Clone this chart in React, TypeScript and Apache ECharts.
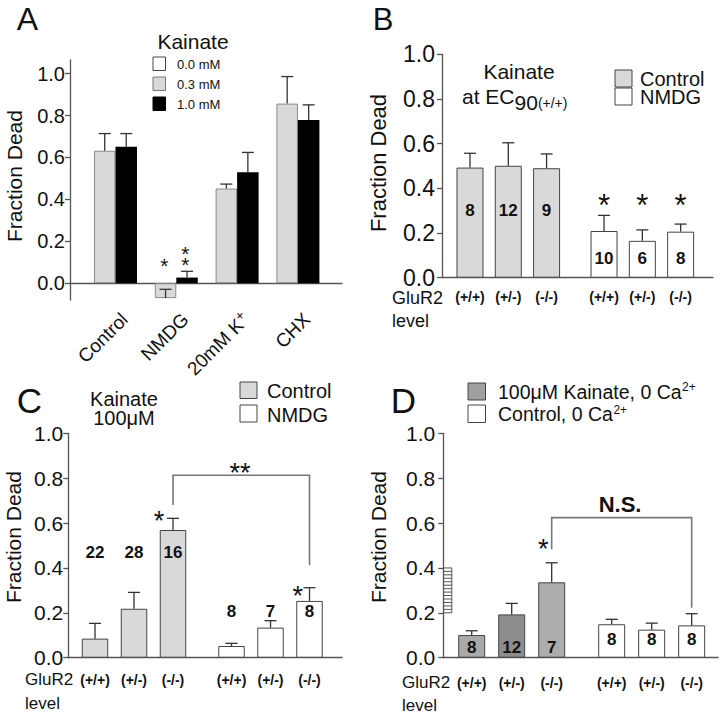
import React, { useEffect, useRef } from "react";
import * as echarts from "echarts";

const FONT = "'Liberation Sans', Arial, Helvetica, sans-serif";
const NARROW = "'Liberation Sans Narrow', 'Liberation Sans', Arial, sans-serif";

// ---------- Panel A ----------
const A_GROUPS = ["Control", "NMDG", "20mM K⁺", "CHX"];
const A_LEGEND = ["0.0 mM", "0.3 mM", "1.0 mM"];
const A_KA03 = [0.632, -0.071, 0.452, 0.857];
const A_KA03_SEM = [0.082, 0.042, 0.021, 0.129];
const A_KA10 = [0.651, 0.027, 0.529, 0.779];
const A_KA10_SEM = [0.063, 0.030, 0.095, 0.072];
const Y_TICKS = [0, 0.2, 0.4, 0.6, 0.8, 1.0];

// ---------- Panels B-D ----------
const GENOTYPES = ["(+/+)", "(+/-)", "(-/-)"];
const SLOT_1 = [1, 2, 3];
const SLOT_2 = [4.5, 5.5, 6.5];

const B_CONTROL = [0.493, 0.501, 0.49];
const B_CONTROL_SEM = [0.064, 0.103, 0.064];
const B_NMDG = [0.209, 0.165, 0.206];
const B_NMDG_SEM = [0.07, 0.049, 0.034];
const B_CONTROL_N = [8, 12, 9];
const B_NMDG_N = [10, 6, 8];

const C_CONTROL = [0.085, 0.218, 0.569];
const C_CONTROL_SEM = [0.068, 0.073, 0.052];
const C_NMDG = [0.052, 0.134, 0.253];
const C_NMDG_SEM = [0.012, 0.031, 0.059];
const C_CONTROL_N = [22, 28, 16];
const C_NMDG_N = [8, 7, 8];

const D_KAINATE = [0.101, 0.193, 0.336];
const D_KAINATE_SEM = [0.019, 0.049, 0.087];
const D_CONTROL = [0.149, 0.125, 0.144];
const D_CONTROL_SEM = [0.022, 0.029, 0.052];
const D_KAINATE_N = [8, 12, 7];
const D_CONTROL_N = [8, 8, 8];

// ---------- styles ----------
const AXIS_COLOR = "#555";
const TEXT = "#111";
const LIGHT = "#d9d9d9";
const D_FILLS = ["#a9a9a9", "#8d8d8d", "#acacac"];

function measure(text: string, size: number, weight = "normal") {
  const c = document.createElement("canvas").getContext("2d");
  if (!c) return text.length * size * 0.55;
  c.font = `${weight} ${size}px ${FONT}`;
  return c.measureText(text).width;
}

function txt(x: number, y: number, text: string, size: number, o: any = {}) {
  const align = o.align || "left";
  return {
    type: "text",
    x,
    y,
    rotation: o.rotation || 0,
    silent: true,
    style: {
      text,
      fill: TEXT,
      fontSize: size,
      lineHeight: o.lineHeight || size,
      fontFamily: o.family || FONT,
      fontWeight: o.weight || "normal",
      align,
      textAlign: align,
      verticalAlign: "middle",
      textVerticalAlign: "middle",
    },
  };
}

function box(x: number, y: number, w: number, h: number, fill: string, stroke = "#444") {
  return {
    type: "rect",
    silent: true,
    shape: { x, y, width: w, height: h },
    style: { fill, stroke, lineWidth: 1 },
  };
}

function errSeries(gi: number, xs: number[], means: number[], sems: number[], dx = 0) {
  return {
    type: "custom",
    xAxisIndex: gi,
    yAxisIndex: gi,
    z: 4,
    silent: true,
    clip: false,
    data: xs.map((x, i) => [x, means[i], means[i] + sems[i]]),
    renderItem: (params: any, api: any) => {
      const lo = api.coord([api.value(0), api.value(1)]);
      const hi = api.coord([api.value(0), api.value(2)]);
      const x = lo[0] + dx;
      const st = { stroke: "#333", lineWidth: 1.3 };
      return {
        type: "group",
        children: [
          { type: "line", shape: { x1: x, y1: lo[1], x2: x, y2: hi[1] }, style: st },
          { type: "line", shape: { x1: x - 6, y1: hi[1], x2: x + 6, y2: hi[1] }, style: st },
        ],
      };
    },
  };
}

function labelSeries(
  gi: number,
  items: [number, number, string][],
  size: number,
  weight = "bold",
  dx = 0,
  dy = 0,
  extra: any = {}
) {
  return {
    type: "custom",
    xAxisIndex: gi,
    yAxisIndex: gi,
    z: 6,
    silent: true,
    clip: false,
    data: items.map((it) => [it[0], it[1]]),
    renderItem: (params: any, api: any) => {
      const p = api.coord([api.value(0), api.value(1)]);
      const raw = items[params.dataIndex][2];
      const t = extra.format ? extra.format(raw) : raw;
      const align = extra.align || "center";
      const style: any = {
        text: t,
        fill: TEXT,
        fontSize: size,
        lineHeight: extra.lineHeight || size,
        fontWeight: weight,
        fontFamily: FONT,
        align,
        verticalAlign: "middle",
        textAlign: align,
        textVerticalAlign: "middle",
      };
      if (extra.rich) style.rich = extra.rich;
      return {
        type: "text",
        x: p[0] + dx,
        y: p[1] + dy,
        rotation: extra.rotation || 0,
        style,
      };
    },
  };
}

function starSeries(gi: number, items: [number, number, string][], size: number, dx = 0, lineHeight?: number) {
  return labelSeries(gi, items, size, "normal", dx, 0.22 * size, { lineHeight: lineHeight || size });
}

function bracketSeries(gi: number, b: number[]) {
  return {
    type: "custom",
    xAxisIndex: gi,
    yAxisIndex: gi,
    z: 5,
    silent: true,
    clip: false,
    data: [b],
    renderItem: (params: any, api: any) => {
      const x1 = api.value(0), x2 = api.value(1), yt = api.value(2), yl = api.value(3), yr = api.value(4);
      const pts = [api.coord([x1, yl]), api.coord([x1, yt]), api.coord([x2, yt]), api.coord([x2, yr])];
      return { type: "polyline", shape: { points: pts }, style: { stroke: "#777", lineWidth: 1.6, fill: "none" } };
    },
  };
}

function hatchSeries(gi: number, xAt: number, range: number[]) {
  return {
    type: "custom",
    xAxisIndex: gi,
    yAxisIndex: gi,
    z: 5,
    silent: true,
    clip: false,
    data: [range],
    renderItem: (params: any, api: any) => {
      const p0 = api.coord([xAt, api.value(0)]);
      const p1 = api.coord([xAt, api.value(1)]);
      const st = { stroke: "#555", lineWidth: 1 };
      const children: any[] = [
        { type: "line", shape: { x1: p0[0] + 8.5, y1: p0[1], x2: p1[0] + 8.5, y2: p1[1] }, style: st },
      ];
      const n = 13;
      for (let k = 0; k <= n; k++) {
        const y = p1[1] + ((p0[1] - p1[1]) * k) / n;
        children.push({ type: "line", shape: { x1: p0[0], y1: y, x2: p0[0] + 8.5, y2: y }, style: st });
      }
      return { type: "group", children };
    },
  };
}

function pairedBars(gi: number, v1: number[], fills1: string[], v2: number[], fill2: string, width: number) {
  const data = [
    ...SLOT_1.map((x, i) => ({ value: [x, v1[i]], itemStyle: { color: fills1[i], borderColor: "#444", borderWidth: 1 } })),
    ...SLOT_2.map((x, i) => ({ value: [x, v2[i]], itemStyle: { color: fill2, borderColor: "#444", borderWidth: 1 } })),
  ];
  return { type: "bar", xAxisIndex: gi, yAxisIndex: gi, data, barWidth: width, z: 2, silent: true };
}

function xAxisGeno(gi: number, min: number, max: number, margin: number) {
  const values = [...SLOT_1, ...SLOT_2];
  const labels = [...GENOTYPES, ...GENOTYPES];
  return {
    type: "value",
    gridIndex: gi,
    min,
    max,
    splitLine: { show: false },
    axisLine: { show: true, onZero: true, lineStyle: { color: AXIS_COLOR, width: 1.3 } },
    axisTick: { show: false },
    axisLabel: {
      customValues: values,
      formatter: (v: number) => {
        const i = values.findIndex((p) => Math.abs(p - v) < 1e-6);
        return i >= 0 ? labels[i] : "";
      },
      margin,
      verticalAlign: "middle",
      fontSize: 14,
      fontWeight: "bold",
      fontFamily: NARROW,
      color: TEXT,
    },
  };
}

function yAxisStd(gi: number, fontSize: number, margin: number) {
  return {
    type: "value",
    gridIndex: gi,
    min: 0,
    max: 1,
    interval: 0.2,
    splitLine: { show: false },
    axisLine: { show: true, lineStyle: { color: AXIS_COLOR, width: 1.3 } },
    axisTick: { show: true, length: 5, lineStyle: { color: AXIS_COLOR, width: 1.3 } },
    axisLabel: { formatter: (v: number) => v.toFixed(1), fontSize, margin, color: TEXT, fontFamily: FONT },
  };
}

function buildOption() {
  const aIdx = A_GROUPS.map((_, i) => i);
  const grids = [
    { left: 70, top: 60, width: 272, height: 240 },
    { left: 442, top: 54.3, width: 271, height: 223.4 },
    { left: 68.3, top: 433.3, width: 273.7, height: 224.4 },
    { left: 443.3, top: 433.3, width: 274.7, height: 224.4 },
  ].map((g) => ({ ...g, containLabel: false, outerBoundsMode: "none", show: false }));

  const xAxis = [
    {
      type: "value",
      gridIndex: 0,
      min: -0.748,
      max: 3.725,
      splitLine: { show: false },
      axisLine: { show: true, onZero: true, lineStyle: { color: AXIS_COLOR, width: 1.3 } },
      axisTick: { show: false },
      axisLabel: { show: false },
    },
    xAxisGeno(1, 0.269, 7.345, 19),
    xAxisGeno(2, 0.315, 7.333, 22),
    xAxisGeno(3, 0.29, 7.158, 25),
  ];

  const yAxis = [
    {
      type: "value",
      gridIndex: 0,
      min: -0.08,
      max: 1.065,
      splitLine: { show: false },
      axisLine: { show: true, onZero: false, lineStyle: { color: AXIS_COLOR, width: 1.3 } },
      axisTick: { show: true, length: 5, customValues: Y_TICKS, lineStyle: { color: AXIS_COLOR, width: 1.3 } },
      axisLabel: { customValues: Y_TICKS, formatter: (v: number) => v.toFixed(1), fontSize: 20, margin: 5, color: TEXT, fontFamily: FONT },
    },
    yAxisStd(1, 23, 7),
    yAxisStd(2, 21, 5),
    yAxisStd(3, 21, 8),
  ];

  const nItems = (xs: number[], y: number, ns: number[]) => xs.map((x, i) => [x, y, String(ns[i])] as [number, number, string]);

  const aLabelRich = {
    a: { fontSize: 19, fontFamily: FONT, fill: TEXT, color: TEXT },
    b: { fontSize: 14, fontFamily: FONT, fill: TEXT, color: TEXT, padding: [0, 0, 10, 0] },
  };
  const aLabelFormat = (s: string) => (s.includes("⁺") ? `{a|${s.replace("⁺", "")}}{b|+}` : `{a|${s}}`);

  const series: any[] = [
    // Panel A
    {
      type: "bar",
      xAxisIndex: 0,
      yAxisIndex: 0,
      data: aIdx.map((i) => [i, A_KA03[i]]),
      barWidth: 21.5,
      barGap: "0%",
      z: 2,
      silent: true,
      itemStyle: { color: LIGHT, borderColor: "#8a8a8a", borderWidth: 1 },
    },
    {
      type: "bar",
      xAxisIndex: 0,
      yAxisIndex: 0,
      data: aIdx.map((i) => [i, A_KA10[i]]),
      barWidth: 21.5,
      barGap: "0%",
      z: 2,
      silent: true,
      itemStyle: { color: "#000" },
    },
    errSeries(0, aIdx, A_KA03, A_KA03_SEM, -10.75),
    errSeries(0, aIdx, A_KA10, A_KA10_SEM, 10.75),
    starSeries(0, [[1, 0.109, "*"]], 21, -12),
    starSeries(0, [[1, 0.1355, "*\n*"]], 21, 9, 11),
    // Panel A category labels (rotated, hanging below the zero line)
    labelSeries(0, aIdx.map((i) => [i, 0, A_GROUPS[i]] as [number, number, string]), 19, "normal", 9, 33, {
      align: "right",
      rotation: Math.PI / 4,
      rich: aLabelRich,
      format: aLabelFormat,
    }),

    // Panel B
    pairedBars(1, B_CONTROL, [LIGHT, LIGHT, LIGHT], B_NMDG, "#fff", 27),
    errSeries(1, SLOT_1, B_CONTROL, B_CONTROL_SEM),
    errSeries(1, SLOT_2, B_NMDG, B_NMDG_SEM),
    labelSeries(1, nItems(SLOT_1, 0.3, B_CONTROL_N), 17),
    labelSeries(1, nItems(SLOT_2, 0.085, B_NMDG_N), 17),
    starSeries(1, SLOT_2.map((x) => [x, 0.352, "*"] as [number, number, string]), 31),

    // Panel C
    pairedBars(2, C_CONTROL, [LIGHT, LIGHT, LIGHT], C_NMDG, "#fff", 26.5),
    errSeries(2, SLOT_1, C_CONTROL, C_CONTROL_SEM),
    errSeries(2, SLOT_2, C_NMDG, C_NMDG_SEM),
    labelSeries(2, nItems(SLOT_1, 0.467, C_CONTROL_N), 17),
    labelSeries(2, nItems(SLOT_2, 0.204, C_NMDG_N), 17),
    starSeries(2, [[2.64, 0.636, "*"], [6.2, 0.3, "*"], [4.72, 0.851, "**"]], 27),
    bracketSeries(2, [3, 6.5, 0.813, 0.68, 0.413]),

    // Panel D
    pairedBars(3, D_KAINATE, D_FILLS, D_CONTROL, "#fff", 27),
    errSeries(3, SLOT_1, D_KAINATE, D_KAINATE_SEM),
    errSeries(3, SLOT_2, D_CONTROL, D_CONTROL_SEM),
    labelSeries(3, nItems(SLOT_1, 0.045, D_KAINATE_N), 17),
    labelSeries(3, nItems(SLOT_2, 0.079, D_CONTROL_N), 17),
    starSeries(3, [[2.79, 0.51, "*"]], 27),
    bracketSeries(3, [3, 6.5, 0.624, 0.483, 0.223]),
    labelSeries(3, [[4.71, 0.683, "N.S."]], 22),
    hatchSeries(3, 0.29, [0.2, 0.4]),
  ];

  // text pieces with sub/superscripts
  const atEcW = measure("at EC", 21);
  const ninetyW = measure("90", 21);
  const kaLine = "100μM Kainate, 0 Ca";
  const ctLine = "Control, 0 Ca";
  const kaW = measure(kaLine, 19.5);
  const ctW = measure(ctLine, 19.5);

  const graphic: any[] = [
    // panel letters
    txt(27.5, 19, "A", 32, { align: "center" }),
    txt(383, 19, "B", 31, { align: "center" }),
    txt(29.5, 400.5, "C", 35, { align: "center" }),
    txt(403.5, 400, "D", 35, { align: "center" }),

    // y-axis names
    txt(14, 176, "Fraction Dead", 21, { align: "center", rotation: Math.PI / 2 }),
    txt(378, 163, "Fraction Dead", 22, { align: "center", rotation: Math.PI / 2 }),
    txt(13, 537, "Fraction Dead", 21, { align: "center", rotation: Math.PI / 2 }),
    txt(378, 537, "Fraction Dead", 21, { align: "center", rotation: Math.PI / 2 }),

    // Panel A legend
    txt(193, 41, "Kainate", 21, { align: "center" }),
    box(153, 57, 12.5, 13.5, "#fff"),
    box(153, 77, 12.5, 13.5, LIGHT, "#777"),
    box(153, 97, 12.5, 13.5, "#000", "#000"),
    txt(177, 84, A_LEGEND.join("\n"), 13, { lineHeight: 20 }),

    // Panel B title + legend
    txt(519, 71, "Kainate", 21, { align: "center" }),
    txt(462, 96.5, "at EC", 21, { lineHeight: 16 }),
    txt(462 + atEcW, 102.5, "90", 21, { lineHeight: 16 }),
    txt(462 + atEcW + ninetyW, 103, "(+/+)", 14),
    box(615, 70, 17, 17, LIGHT),
    box(615, 88, 17, 17, "#fff"),
    txt(640, 87.5, "Control\nNMDG", 20, { lineHeight: 18 }),
    txt(392, 309.25, "GluR2\nlevel", 18, { lineHeight: 23.5 }),

    // Panel C title + legend
    txt(124, 408.5, "Kainate\n100μM", 20, { align: "center", lineHeight: 19 }),
    box(240, 382, 17, 16.5, LIGHT),
    box(240, 405, 17, 17, "#fff"),
    txt(267, 402.5, "Control\nNMDG", 20, { lineHeight: 24 }),
    txt(25, 691, "GluR2\nlevel", 17, { lineHeight: 24 }),

    // Panel D legend
    box(468, 383, 17.5, 17, "#a0a0a0"),
    box(468, 405, 17.5, 17.5, "#fff"),
    txt(498, 391.5, kaLine, 19.5, { lineHeight: 20 }),
    txt(498 + kaW + 0.5, 387, "2+", 12),
    txt(498, 414, ctLine, 19.5, { lineHeight: 20 }),
    txt(498 + ctW + 0.5, 409.5, "2+", 12),
    txt(402, 693.5, "GluR2\nlevel", 17, { lineHeight: 23 }),
  ];

  return {
    animation: false,
    backgroundColor: "#fff",
    grid: grids,
    xAxis,
    yAxis,
    series,
    graphic,
  };
}

export default function App() {
  const ref = useRef<HTMLDivElement>(null);
  useEffect(() => {
    if (!ref.current) return;
    const chart = echarts.init(ref.current, undefined, { renderer: "svg", width: 720, height: 716 });
    chart.setOption(buildOption() as any);
    return () => chart.dispose();
  }, []);
  return (
    <div
      ref={ref}
      style={{ position: "fixed", left: 0, top: 0, width: 720, height: 716, background: "#fff" }}
    />
  );
}
